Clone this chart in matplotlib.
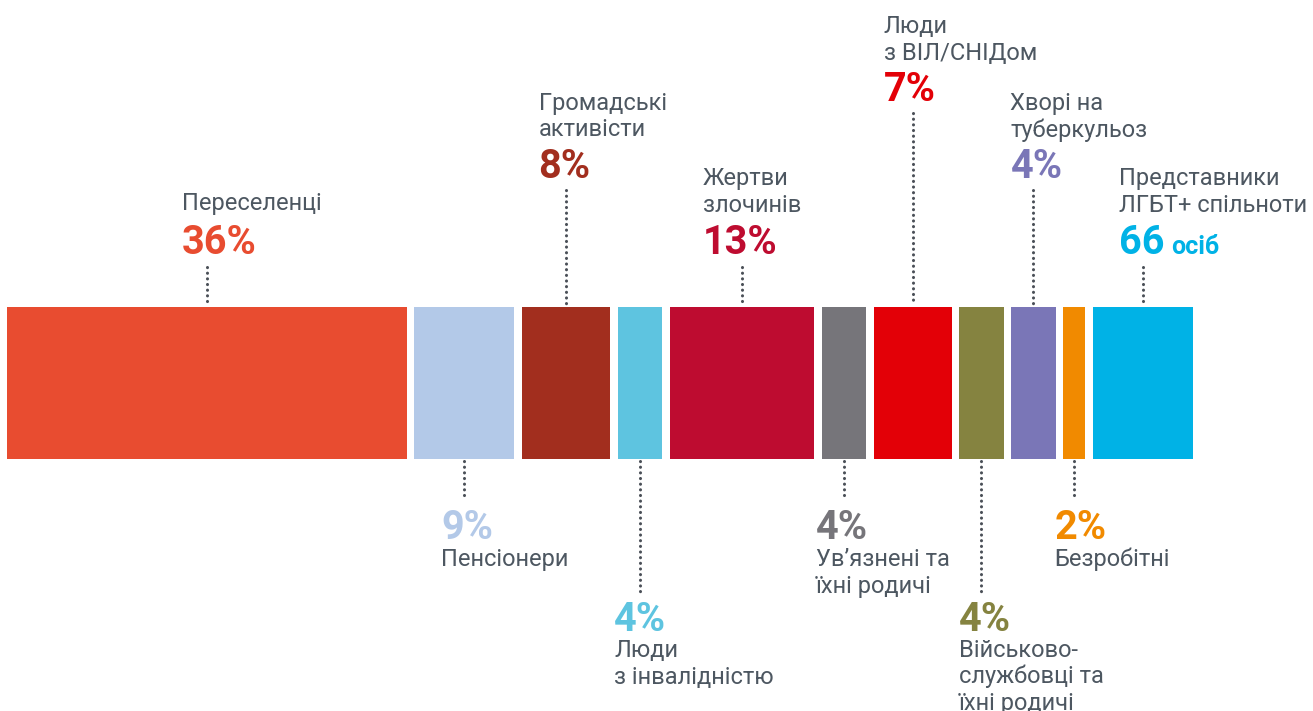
import matplotlib
matplotlib.use("Agg")
import matplotlib.pyplot as plt

plt.rcParams['font.family'] = ['Roboto', 'DejaVu Sans']

# data
names = [
    "Переселенці",
    "Пенсіонери",
    "Громадські\nактивісти",
    "Люди\nз інвалідністю",
    "Жертви\nзлочинів",
    "Ув’язнені та\nїхні родичі",
    "Люди\nз ВІЛ/СНІДом",
    "Військово-\nслужбовці та\nїхні родичі",
    "Хворі на\nтуберкульоз",
    "Безробітні",
    "Представники\nЛГБТ+ спільноти",
]
values = [36, 9, 8, 4, 13, 4, 7, 4, 4, 2, 9]
value_labels = ["36%", "9%", "8%", "4%", "13%", "4%", "7%", "4%", "4%", "2%", "66"]
colors = ["#E84C30", "#B3C9E8", "#A22E1E", "#5EC4E0", "#BE0C30", "#76757A",
          "#E30007", "#858340", "#7A76B7", "#F18A00", "#00B2E6"]

# layout (pixels)
W, H = 1313, 711
k = 11.1           # px per percent
x0 = 7
gap = 7.6 / k
bar_top, bar_bot = 307, 459
text_col = "#4D5761"

# per label: side, text offset left of centre (px), line end y, pct baseline, first name baseline
layout = [
    ("top", 25, 267, 254, 210),
    ("bot", 23, 499, 539, 566),
    ("top", 27.5, 190, 178, 110),
    ("bot", 26, 592, 631, 657),
    ("top", 39.5, 267, 254, 185),
    ("bot", 28, 499, 539, 566),
    ("top", 29, 113, 101, 33),
    ("bot", 22.5, 592, 631, 657),
    ("top", 23, 190, 178, 110),
    ("bot", 20, 499, 539, 566),
    ("top", 24, 267, 254, 185),
]

fig = plt.figure(figsize=(W / 100, H / 100), dpi=100)
ax = fig.add_axes([0, 0, 1, 1])
ax.set_xlim(-x0 / k, (W - x0) / k)
ax.set_ylim(H, 0)
ax.axis("off")

lefts = []
pos = 0
for v in values:
    lefts.append(pos)
    pos += v + gap

ax.barh((bar_top + bar_bot) / 2, values, left=lefts, height=bar_bot - bar_top,
        color=colors, linewidth=0)

line_h = 26.5
for i in range(len(values)):
    side, off, ly, pct_y, name_y = layout[i]
    cx = lefts[i] + values[i] / 2
    tx = cx - off / k
    if side == "top":
        ax.plot([cx, cx], [ly, bar_top - 2], color="#4a4f57", lw=2.2,
                linestyle=(0, (0.05, 1.8)), dash_capstyle="round")
    else:
        ax.plot([cx, cx], [bar_bot + 2, ly], color="#4a4f57", lw=2.2,
                linestyle=(0, (0.05, 1.8)), dash_capstyle="round")
    ax.text(tx, pct_y, value_labels[i], color=colors[i], fontsize=28.5,
            fontweight="bold", va="baseline", ha="left")
    for j, line in enumerate(names[i].split("\n")):
        ax.text(tx, name_y + j * line_h, line, color=text_col, fontsize=17,
                va="baseline", ha="left")

# "осіб" after 66
i = 10
tx = lefts[i] + values[i] / 2 - layout[i][1] / k
ax.text(tx + 52 / k, layout[i][3], "осіб", color=colors[i], fontsize=18,
        fontweight="bold", va="baseline", ha="left")

fig.savefig("out.png", dpi=100)
